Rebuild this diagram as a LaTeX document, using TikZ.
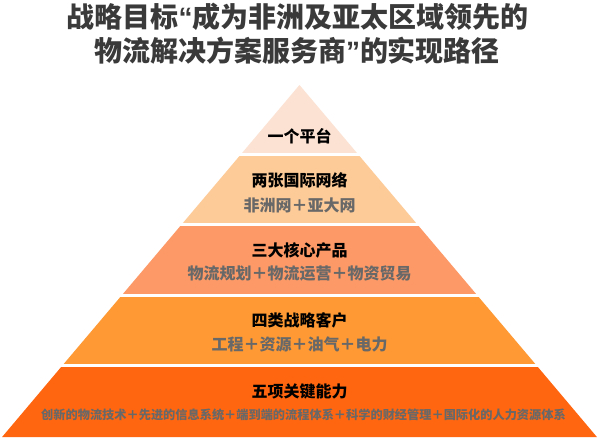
\documentclass[tikz,border=0pt]{standalone}
\usepackage{fontspec}
\setmainfont{Noto Sans CJK SC}
\newfontfamily\latq{Liberation Sans}
\definecolor{cA}{HTML}{FCE2D2}
\definecolor{cB}{HTML}{FDCB98}
\definecolor{cC}{HTML}{FC9966}
\definecolor{cD}{HTML}{FE9933}
\definecolor{cE}{HTML}{FF660F}
\definecolor{titlec}{HTML}{3A3A3A}
\definecolor{subc}{HTML}{686868}
\tikzset{
  ttl/.style={inner sep=0pt, text=titlec, font=\fontsize{28}{28}\selectfont\bfseries},
  lvl/.style={inner sep=0pt, text=black, font=\fontsize{16}{16}\selectfont\bfseries},
  sub/.style={inner sep=0pt, text=subc, font=\fontsize{16}{16}\selectfont\bfseries},
  subsmall/.style={inner sep=0pt, text=subc, font=\fontsize{12.2}{12.2}\selectfont\bfseries},
  gapline/.style={draw=white, line width=3}
}
\begin{document}
\begin{tikzpicture}[x=1pt,y=-1pt]
\useasboundingbox (0,0) rectangle (600,442);
\fill[white] (0,0) rectangle (600,442);
% pyramid: apex (299.5,85), slope 0.845 half-width per unit height
\coordinate (apex) at (299.5,85);
\fill[cA] (299.5,85) -- (299.5-58.3,154) -- (299.5+58.3,154) -- cycle;
\fill[cB] (299.5-58.3,154) -- (299.5-117.9,224.5) -- (299.5+117.9,224.5) -- (299.5+58.3,154) -- cycle;
\fill[cC] (299.5-117.9,224.5) -- (299.5-177.9,295.5) -- (299.5+177.9,295.5) -- (299.5+117.9,224.5) -- cycle;
\fill[cD] (299.5-177.9,295.5) -- (299.5-237.1,365.5) -- (299.5+237.1,365.5) -- (299.5+177.9,295.5) -- cycle;
\fill[cE] (299.5-237.1,365.5) -- (299.5-297.4,437) -- (299.5+297.4,437) -- (299.5+237.1,365.5) -- cycle;
\draw[gapline] (0,154) -- (600,154);
\draw[gapline] (0,224.5) -- (600,224.5);
\draw[gapline] (0,295.5) -- (600,295.5);
\draw[gapline] (0,365.5) -- (600,365.5);
% title
\node[ttl] (t1) at (297.5,16.5) {战略目标{\latq “}成为非洲及亚太区域领先的};
\node[ttl] (t2) at (297,51) {物流解决方案服务商{\latq ”}的实现路径};
% labels
\node[lvl] (l1) at (299.5,136) {一个平台};
\node[lvl] (l2) at (299.5,180) {两张国际网络};
\node[sub] (s2) at (299.5,205) {非洲网＋亚大网};
\node[lvl] (l3) at (299.5,250) {三大核心产品};
\node[sub] (s3) at (299.5,274) {物流规划＋物流运营＋物资贸易};
\node[lvl] (l4) at (299.5,320) {四类战略客户};
\node[sub] (s4) at (299.5,344.5) {工程＋资源＋油气＋电力};
\node[lvl] (l5) at (299.5,391.5) {五项关键能力};
\node[subsmall] (s5) at (303.5,414.5) {创新的物流技术＋先进的信息系统＋端到端的流程体系＋科学的财经管理＋国际化的人力资源体系};
\end{tikzpicture}
\end{document}
